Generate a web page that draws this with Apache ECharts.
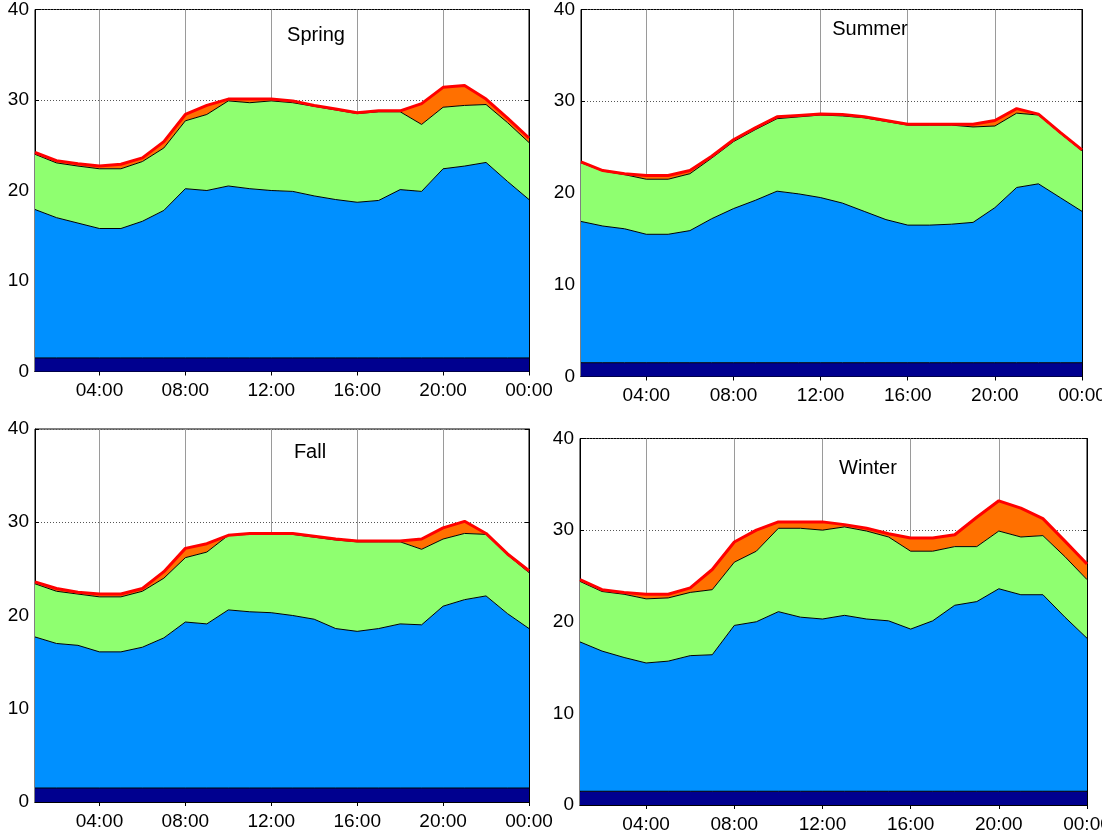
<!DOCTYPE html>
<html>
<head>
<meta charset="utf-8">
<script src="https://cdn.jsdelivr.net/npm/echarts@6/dist/echarts.min.js"></script>
<style>html,body{margin:0;padding:0;background:#fff}#c{width:1102px;height:833px}</style>
</head>
<body>
<div id="c"></div>
<script>
// ---------- data ----------
const hours = ["01:00","02:00","03:00","04:00","05:00","06:00","07:00","08:00","09:00","10:00","11:00","12:00",
               "13:00","14:00","15:00","16:00","17:00","18:00","19:00","20:00","21:00","22:00","23:00","00:00"];
const yTickValues = [0, 10, 20, 30, 40];
const seasonNames = ["Spring", "Summer", "Fall", "Winter"];

// base layer (dark blue), same every season
const baseLoad = [1.5,1.5,1.5,1.5,1.5,1.5,1.5,1.5,1.5,1.5,1.5,1.5,1.5,1.5,1.5,1.5,1.5,1.5,1.5,1.5,1.5,1.5,1.5,1.5];

// cumulative tops of each layer
const springBlueTop  = [17.9,17.0,16.4,15.8,15.8,16.6,17.8,20.2,20.0,20.5,20.2,20.0,19.9,19.4,19.0,18.7,18.9,20.1,19.9,22.4,22.7,23.1,21.0,19.0];
const springGreenTop = [24.0,23.05,22.7,22.4,22.4,23.2,24.7,27.7,28.4,29.9,29.7,29.9,29.7,29.3,28.9,28.5,28.7,28.7,27.3,29.2,29.4,29.5,27.5,25.3];
const springTotal    = [24.2,23.3,22.95,22.7,22.9,23.6,25.4,28.4,29.4,30.1,30.1,30.1,29.9,29.4,29.0,28.6,28.8,28.8,29.6,31.4,31.6,30.1,28.0,25.8];

const summerBlueTop  = [16.9,16.4,16.1,15.5,15.5,15.9,17.2,18.3,19.2,20.2,19.9,19.5,18.9,18.0,17.1,16.5,16.5,16.6,16.8,18.4,20.6,21.0,19.5,18.0];
const summerGreenTop = [23.3,22.4,22.0,21.5,21.5,22.1,23.8,25.6,26.9,28.1,28.3,28.5,28.4,28.2,27.8,27.4,27.4,27.4,27.2,27.3,28.7,28.5,26.5,24.6];
const summerTotal    = [23.4,22.45,22.1,21.9,21.9,22.45,24.0,25.8,27.1,28.3,28.45,28.6,28.55,28.3,27.9,27.5,27.5,27.5,27.5,27.9,29.2,28.6,26.6,24.7];

const fallBlueTop    = [17.7,17.0,16.8,16.1,16.1,16.6,17.6,19.3,19.1,20.6,20.4,20.3,20.0,19.6,18.6,18.3,18.6,19.1,19.0,21.0,21.7,22.1,20.2,18.6];
const fallGreenTop   = [23.4,22.6,22.3,22.0,22.0,22.6,24.0,26.2,26.8,28.6,28.7,28.7,28.7,28.4,28.1,27.9,27.9,27.9,27.1,28.2,28.8,28.7,26.5,24.6];
const fallTotal      = [23.6,22.9,22.5,22.3,22.3,22.9,24.7,27.2,27.7,28.6,28.8,28.8,28.8,28.5,28.2,28.0,28.0,28.0,28.2,29.4,30.1,28.8,26.6,24.8];

const winterBlueTop  = [17.8,16.8,16.1,15.5,15.7,16.3,16.4,19.6,20.0,21.1,20.5,20.3,20.7,20.3,20.1,19.2,20.1,21.8,22.2,23.6,22.95,22.95,20.5,18.2];
const winterGreenTop = [24.4,23.3,23.0,22.5,22.6,23.2,23.5,26.5,27.7,30.2,30.2,30.0,30.35,29.9,29.25,27.7,27.7,28.2,28.2,29.9,29.25,29.4,27.1,24.6];
const winterTotal    = [24.6,23.5,23.2,23.0,23.0,23.7,25.7,28.7,30.0,30.9,30.9,30.9,30.6,30.2,29.6,29.15,29.15,29.5,31.4,33.2,32.4,31.25,28.8,26.3];

// ---------- layout ----------
const panels = [
  { blue: springBlueTop, green: springGreenTop, total: springTotal,
    grid: {left: 35, top: 9.5, width: 494, height: 362}, title: [316, 35] },
  { blue: summerBlueTop, green: summerGreenTop, total: summerTotal,
    grid: {left: 581, top: 9.5, width: 501, height: 367}, title: [870, 29] },
  { blue: fallBlueTop, green: fallGreenTop, total: fallTotal,
    grid: {left: 35, top: 429, width: 494, height: 373}, title: [310, 452] },
  { blue: winterBlueTop, green: winterGreenTop, total: winterTotal,
    grid: {left: 580, top: 438.5, width: 507, height: 366.5}, title: [868, 468] }
];

const FONT = '"Liberation Sans", Arial, sans-serif';
const C_NAVY = '#00008f', C_BLUE = '#0090ff', C_GREEN = '#8fff70', C_ORANGE = '#ff7000', C_RED = '#ff0000';
const showTick = (i) => (i + 1) % 4 === 0;
const diff = (a, b) => a.map((v, i) => Math.round((v - b[i]) * 1000) / 1000);

const grids = [], xAxes = [], yAxes = [], series = [], graphics = [];

panels.forEach((p, k) => {
  grids.push(Object.assign({ show: true, borderColor: '#000', borderWidth: 1, backgroundColor: '#fff',
                             containLabel: false, outerBoundsMode: 'none' }, p.grid));
  xAxes.push({
    type: 'category', gridIndex: k, data: hours, boundaryGap: false, position: 'bottom',
    axisLine: { lineStyle: { color: '#000', width: 1 } },
    axisTick: { inside: true, length: 4, interval: showTick, lineStyle: { color: '#000' } },
    axisLabel: { interval: showTick, color: '#000', fontSize: 19, fontFamily: FONT, margin: 10 },
    splitLine: { show: true, interval: showTick, lineStyle: { color: '#9a9a9a', width: 1 } }
  });
  xAxes.push({
    type: 'category', gridIndex: k, data: hours, boundaryGap: false, position: 'top',
    axisLine: { lineStyle: { color: '#000', width: 1 } },
    axisTick: { inside: true, length: 4, interval: showTick, lineStyle: { color: '#000' } },
    axisLabel: { show: false }, splitLine: { show: false }
  });
  yAxes.push({
    type: 'value', gridIndex: k, min: yTickValues[0], max: yTickValues[yTickValues.length - 1], interval: 10,
    position: 'left',
    axisLine: { show: true, lineStyle: { color: '#000', width: 1 } },
    axisTick: { show: true, inside: true, length: 4, lineStyle: { color: '#000' } },
    axisLabel: { color: '#000', fontSize: 19, fontFamily: FONT, margin: 6 },
    splitLine: { show: true, lineStyle: { color: '#555', width: 1, type: [1, 2] } }
  });
  yAxes.push({
    type: 'value', gridIndex: k, min: yTickValues[0], max: yTickValues[yTickValues.length - 1], interval: 10,
    position: 'right',
    axisLine: { show: true, lineStyle: { color: '#000', width: 1 } },
    axisTick: { show: true, inside: true, length: 4, lineStyle: { color: '#000' } },
    axisLabel: { show: false }, splitLine: { show: false }
  });

  const layers = [
    { data: baseLoad, color: C_NAVY, z: 6 },
    { data: diff(p.blue, baseLoad), color: C_BLUE, z: 5 },
    { data: diff(p.green, p.blue), color: C_GREEN, z: 4 },
    { data: diff(p.total, p.green), color: C_ORANGE, z: 3 }
  ];
  layers.forEach((L) => {
    series.push({
      type: 'line', xAxisIndex: 2 * k, yAxisIndex: 2 * k, stack: 'S' + k, data: L.data,
      symbol: 'none', showSymbol: false, silent: true, z: L.z,
      areaStyle: { color: L.color, opacity: 1 },
      lineStyle: { color: '#000', width: 1 }
    });
  });
  series.push({
    type: 'line', xAxisIndex: 2 * k, yAxisIndex: 2 * k, data: p.total,
    symbol: 'none', showSymbol: false, silent: true, z: 10,
    lineStyle: { color: C_RED, width: 3 }
  });
  graphics.push({
    type: 'text', z: 100,
    style: { text: seasonNames[k], x: p.title[0], y: p.title[1], textAlign: 'center', textVerticalAlign: 'middle',
             font: '20px ' + FONT, fill: '#000' }
  });
});

const chart = echarts.init(document.getElementById('c'), null, { renderer: 'canvas' });
chart.setOption({
  animation: false,
  backgroundColor: '#fff',
  grid: grids, xAxis: xAxes, yAxis: yAxes, series: series, graphic: graphics
});
</script>
</body>
</html>
